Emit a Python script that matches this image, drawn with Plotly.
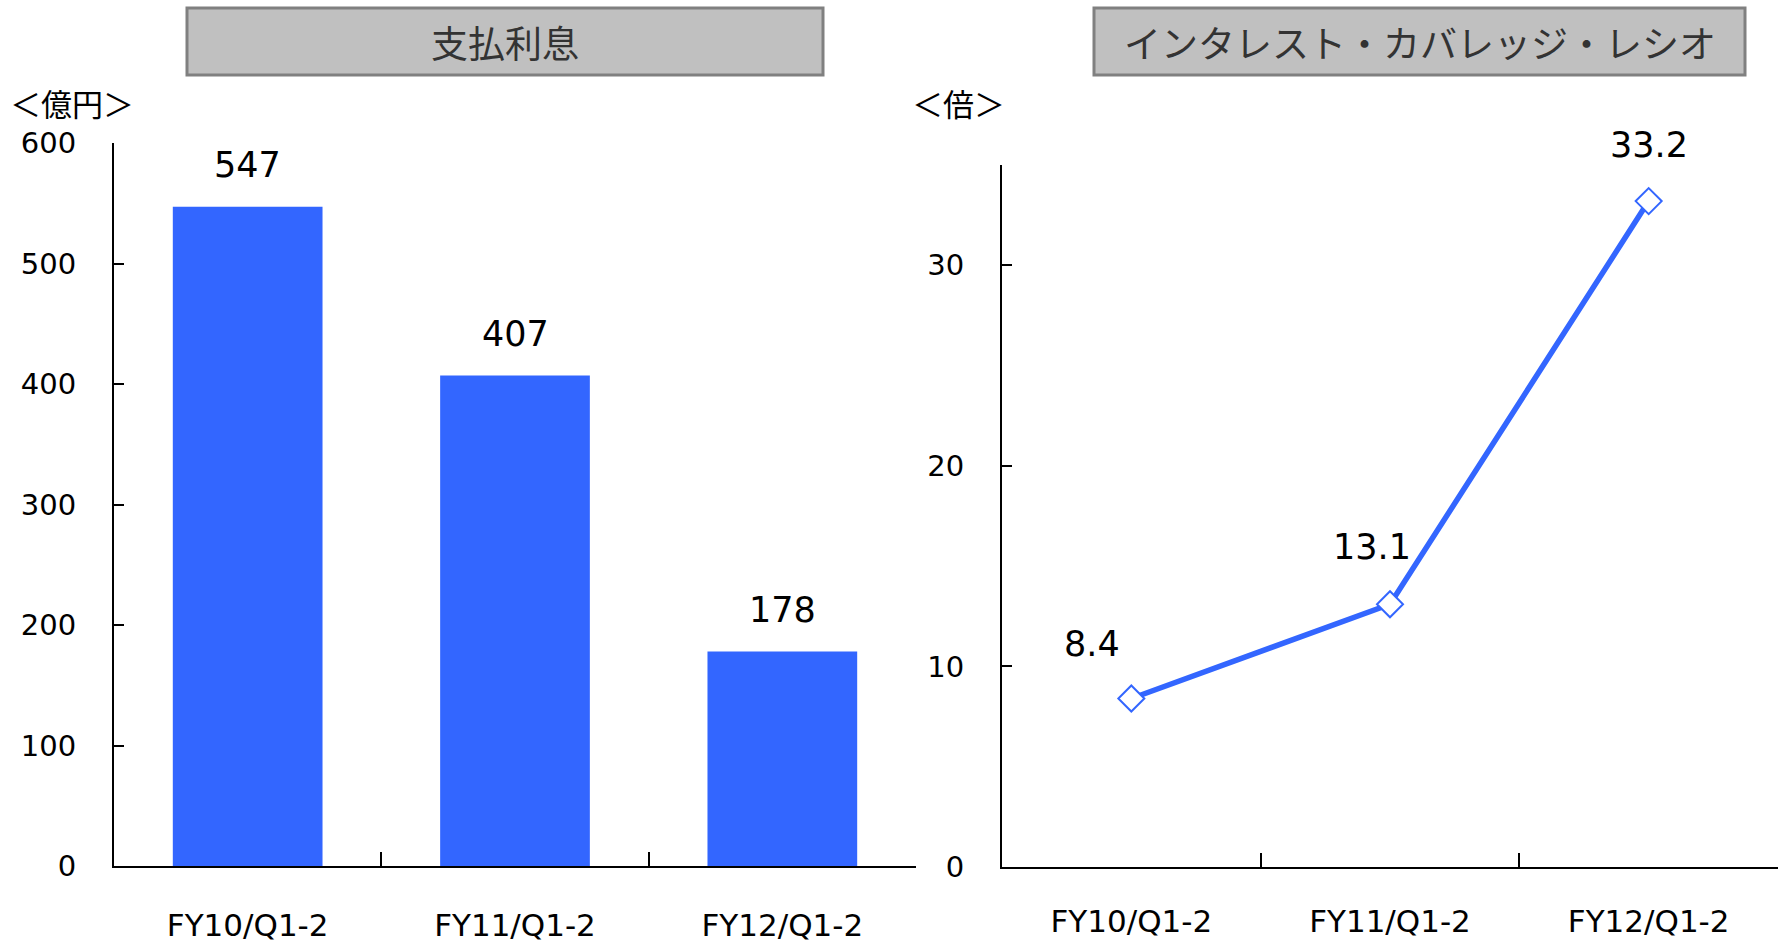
import plotly.graph_objects as go

categories = ["FY10/Q1-2", "FY11/Q1-2", "FY12/Q1-2"]
interest_paid = [547, 407, 178]
coverage_ratio = [8.4, 13.1, 33.2]
left_ticks = [0, 100, 200, 300, 400, 500, 600]
right_ticks = [0, 10, 20, 30]
left_title = "支払利息"
right_title = "インタレスト・カバレッジ・レシオ"
left_unit = "＜億円＞"
right_unit = "＜倍＞"

BLUE = "#3366ff"
W, H = 1785, 943
JP = "Noto Sans CJK JP, sans-serif"
NUM = "DejaVu Sans, sans-serif"

def px(x):
    return x / W

def py(y):
    return 1 - y / H

fig = go.Figure()

fig.add_trace(go.Bar(
    x=categories, y=interest_paid, marker_color=BLUE, marker_line_width=0,
    xaxis="x", yaxis="y", showlegend=False, hoverinfo="skip"))

fig.add_trace(go.Scatter(
    x=categories, y=coverage_ratio, mode="lines+markers",
    line=dict(color=BLUE, width=5.5),
    marker=dict(symbol="diamond", size=20, color="white", line=dict(color=BLUE, width=2)),
    xaxis="x2", yaxis="y2", showlegend=False, hoverinfo="skip"))

annotations = []
for c, v in zip(categories, interest_paid):
    annotations.append(dict(x=c, y=v, xref="x", yref="y", text=str(v), showarrow=False,
                            yanchor="middle", yshift=42,
                            font=dict(size=35, color="black", family=NUM)))
r_xshift = [-39, -18, 0]
r_yshift = [55, 57, 56]
for c, v, dx, dy in zip(categories, coverage_ratio, r_xshift, r_yshift):
    annotations.append(dict(x=c, y=v, xref="x2", yref="y2", text=f"{v:.1f}", showarrow=False,
                            yanchor="middle", xshift=dx, yshift=dy,
                            font=dict(size=35, color="black", family=NUM)))

# titles
shapes = []
for (x0, x1), t in [((187, 823), left_title), ((1094, 1745), right_title)]:
    shapes.append(dict(type="rect", xref="paper", yref="paper",
                       x0=px(x0), x1=px(x1), y0=py(75), y1=py(8),
                       fillcolor="#c0c0c0", line=dict(color="#808080", width=3), layer="below"))
    annotations.append(dict(x=px((x0 + x1) / 2), y=py(42), xref="paper", yref="paper",
                            text=t, showarrow=False, xanchor="center", yanchor="middle",
                            font=dict(size=37, color="#333333", family=JP)))

annotations.append(dict(x=px(8), y=py(102), xref="paper", yref="paper", text=left_unit,
                        showarrow=False, xanchor="left", yanchor="middle",
                        font=dict(size=31, color="black", family=JP)))
annotations.append(dict(x=px(910), y=py(102), xref="paper", yref="paper", text=right_unit,
                        showarrow=False, xanchor="left", yanchor="middle",
                        font=dict(size=31, color="black", family=JP)))

axis_common = dict(showline=True, linecolor="black", linewidth=2, showgrid=False,
                   zeroline=False, ticks="inside", tickcolor="black", tickwidth=1.5,
                   automargin=False)

fig.update_layout(
    width=W, height=H, margin=dict(l=0, r=0, t=0, b=0, autoexpand=False),
    paper_bgcolor="white", plot_bgcolor="white",
    bargap=0.44,
    font=dict(family=NUM, color="black"),
    xaxis=dict(domain=[px(114), px(916)], anchor="y", type="category", range=[-0.5, 2.5],
               tickson="boundaries", ticklen=14, ticklabelstandoff=31,
               tickfont=dict(size=31, family=NUM), **axis_common),
    yaxis=dict(domain=[py(866), py(143)], anchor="x", range=[0, 600],
               tickvals=left_ticks, ticklen=10, ticklabelstandoff=30,
               tickfont=dict(size=29, family=NUM), **axis_common),
    xaxis2=dict(domain=[px(1002), px(1778)], anchor="y2", type="category", range=[-0.5, 2.5],
                tickson="boundaries", ticklen=14, ticklabelstandoff=26,
                tickfont=dict(size=31, family=NUM), **axis_common),
    yaxis2=dict(domain=[py(867), py(165)], anchor="x2", range=[0, 35],
                tickvals=right_ticks, ticklen=10, ticklabelstandoff=30,
                tickfont=dict(size=29, family=NUM), **axis_common),
    shapes=shapes, annotations=annotations,
)

fig.write_html("out.html")
